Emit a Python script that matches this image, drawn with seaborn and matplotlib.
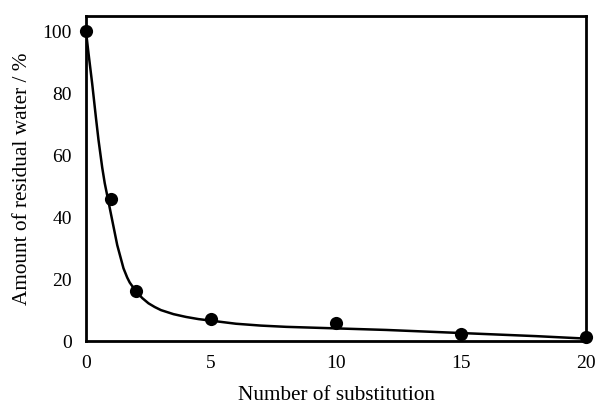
import matplotlib
matplotlib.use("Agg")
import matplotlib.pyplot as plt
import seaborn as sns
import pandas as pd

# Measured points
subst_n = [0, 1, 2, 5, 10, 15, 20]
residual = [100, 45.8, 16.2, 7.1, 5.9, 2.4, 1.4]

# Fitted curve
curve_x = [0, 0.1, 0.25, 0.4, 0.5, 0.65, 0.75, 0.9, 1.0, 1.15, 1.25, 1.4, 1.5, 1.65,
           1.75, 1.9, 2.0, 2.25, 2.5, 2.75, 3.0, 3.5, 4.0, 4.5, 5.0, 6.0, 7.0, 8.0,
           10.0, 12.0, 15.0, 18.0, 20.0]
curve_y = [100, 93, 83, 72, 65, 56, 51, 45, 41, 35, 31, 26.5, 23.5, 20.5,
           18.9, 17.2, 16.1, 13.9, 12.2, 11.0, 10.0, 8.7, 7.8, 7.1, 6.6, 5.6, 5.0, 4.6,
           4.1, 3.6, 2.6, 1.6, 0.8]

ticks_x = [0, 5, 10, 15, 20]
ticks_y = [0, 20, 40, 60, 80, 100]

sns.set_theme(style="white")
plt.rcParams['font.family'] = ['Liberation Serif', 'DejaVu Serif']
plt.rcParams['mathtext.fontset'] = 'stix'

fig = plt.figure(figsize=(5.95, 4.08), dpi=100)
ax = fig.add_axes([0.1445, 0.164, 0.8405, 0.797])

pts = pd.DataFrame({"n": subst_n, "r": residual})
crv = pd.DataFrame({"x": curve_x, "y": curve_y})

sns.lineplot(data=crv, x="x", y="y", ax=ax, color="black", linewidth=1.8,
             sort=False, estimator=None, zorder=2)
sns.scatterplot(data=pts, x="n", y="r", ax=ax, color="black", s=90,
                edgecolor="black", linewidth=0, zorder=3, clip_on=False)

ax.set_xlim(0, 20)
ax.set_ylim(0, 105)
ax.set_xticks(ticks_x)
ax.set_yticks(ticks_y)
ax.tick_params(direction="in", length=4.5, width=1.5, colors="black",
               labelsize=14, pad=10)
ax.tick_params(axis="x", pad=10)
for sp in ax.spines.values():
    sp.set_color("black")
    sp.set_linewidth(2.0)

ax.set_xlabel("Number of substitution", fontsize=15.3, color="black", labelpad=10)
ax.set_ylabel("Amount of residual water / %", fontsize=15.3, color="black", labelpad=8)

fig.savefig("out.png", dpi=100)
